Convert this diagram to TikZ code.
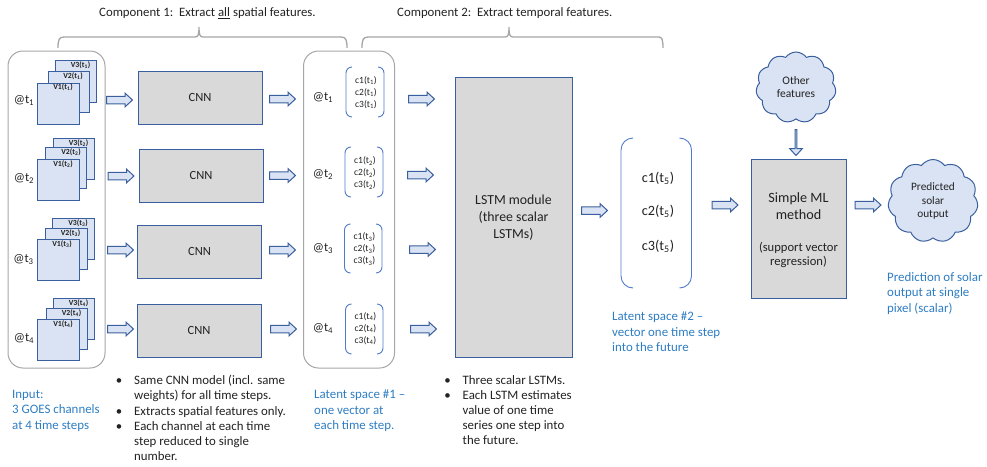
\documentclass[tikz,border=0pt]{standalone}
\usepackage{fontspec}
\setmainfont{Carlito}
\usetikzlibrary{shapes.arrows,shapes.symbols}
\definecolor{bluefill}{HTML}{DAE3F3}
\definecolor{blueline}{HTML}{3A5F9E}
\definecolor{brk}{HTML}{4F7BC8}
\definecolor{greyfill}{HTML}{D9D9D9}
\definecolor{greyline}{HTML}{A6A6A6}
\definecolor{bluetext}{HTML}{2E7DC2}
\definecolor{ink}{HTML}{222222}
\newcommand{\fs}[2]{\fontsize{#1}{#2}\selectfont}
\newcommand{\brkt}[5]{\draw[bracketline,rounded corners=#5] (#1+#5,#2)--(#1,#2)--(#1,#4)--(#1+#5,#4);
  \draw[bracketline,rounded corners=#5] (#3-#5,#2)--(#3,#2)--(#3,#4)--(#3-#5,#4);}
\tikzset{
  x=1pt,y=-1pt,
  bracketline/.style={draw=brk,line width=.9pt},
  sheet/.style={draw=blueline,fill=bluefill,line width=1pt},
  proc/.style={draw=blueline,fill=greyfill,line width=1pt,text=ink,inner sep=0pt,align=center},
  holder/.style={draw=greyline,line width=1pt,rounded corners=15pt},
  compbrace/.style={draw=greyline,line width=1.3pt},
  blk/.style={single arrow,draw=blueline,fill=bluefill,line width=1pt,inner sep=0pt,
    text height=6.5pt,text depth=0pt,text width=0pt,
    minimum height=26pt,minimum width=12.5pt,single arrow head extend=3pt,
    single arrow tip angle=85,anchor=tail},
  cloudy/.style={cloud,cloud puffs=11,cloud puff arc=110,aspect=1.1,draw=blueline,fill=bluefill,line width=1pt,
    inner sep=0pt,align=center,text=ink},
  vlab/.style={font=\fs{7.8}{8}\bfseries,text=ink,inner sep=0pt},
  clab/.style={font=\fs{9.5}{10},text=ink,inner sep=0pt},
  clabbig/.style={font=\fs{14.2}{15},text=ink,inner sep=0pt},
  atlab/.style={font=\fs{12.5}{14},text=ink,inner sep=0pt},
  body/.style={font=\fs{12.85}{15.2},text=ink,inner sep=0pt,anchor=north west,align=left},
  note/.style={font=\fs{12.9}{15.5},text=bluetext,inner sep=0pt,anchor=north west,align=left},
  head/.style={font=\fs{12.8}{14},text=ink,inner sep=0pt,anchor=west},
  cnnbox/.style={proc,minimum width=124pt,minimum height=53pt,font=\fs{12.5}{14}},
}
\newcommand{\bu}{\llap{•\hspace{12pt}}}
\begin{document}
\begin{tikzpicture}
\useasboundingbox (0,0) rectangle (987,466);
% headings
\node[head] (h1) at (99,13) {Component 1:\ \ Extract \underline{all} spatial features.};
\node[head] (h2) at (397,13) {Component 2:\ \ Extract temporal features.};
% component braces
\draw[compbrace] (58,48) .. controls (58,40) and (59,37) .. (64,37) -- (195,37) .. controls (198,37) and (199,35) .. (199,27)
  .. controls (199,35) and (200,37) .. (203,37) -- (341,37) .. controls (346,37) and (347,40) .. (347,48);
\draw[compbrace] (362,48) .. controls (362,40) and (363,37) .. (368,37) -- (505,37) .. controls (508,37) and (509,35) .. (509,27)
  .. controls (509,35) and (510,37) .. (513,37) -- (659,37) .. controls (662,37) and (663,40) .. (663,48);
% holders
\draw[holder] (8,51) rectangle (105,368);
\draw[holder] (303.5,51) rectangle (394.5,368);
% input stacks
\draw[sheet] (55,60.5) rectangle (96.5,102);
\draw[sheet] (48,71) rectangle (89,112);
\draw[sheet] (37,83) rectangle (79,124);
\node[vlab] (v31) at (80.5,65.5) {V3(t\textsubscript{1})};
\node[vlab] (v21) at (73,76.5) {V2(t\textsubscript{1})};
\node[vlab] (v11) at (63,87.5) {V1(t\textsubscript{1})};
\draw[sheet] (53,138.5) rectangle (94.5,179);
\draw[sheet] (45.5,147) rectangle (86.5,188);
\draw[sheet] (37.5,159) rectangle (79,200);
\node[vlab] (v32) at (78.5,143.5) {V3(t\textsubscript{2})};
\node[vlab] (v22) at (71,152.5) {V2(t\textsubscript{2})};
\node[vlab] (v12) at (63,164.5) {V1(t\textsubscript{2})};
\draw[sheet] (52,218) rectangle (94,259);
\draw[sheet] (45,228) rectangle (87,269);
\draw[sheet] (37,239) rectangle (79,280);
\node[vlab] (v33) at (78,223.5) {V3(t\textsubscript{3})};
\node[vlab] (v23) at (70.5,233.5) {V2(t\textsubscript{3})};
\node[vlab] (v13) at (62,244.5) {V1(t\textsubscript{3})};
\draw[sheet] (53,298) rectangle (94.5,339);
\draw[sheet] (46,308) rectangle (87.5,349);
\draw[sheet] (37.5,319) rectangle (79,360);
\node[vlab] (v34) at (78.5,303.5) {V3(t\textsubscript{4})};
\node[vlab] (v24) at (71.5,313.5) {V2(t\textsubscript{4})};
\node[vlab] (v14) at (63,324.5) {V1(t\textsubscript{4})};
% @ labels left
\node[atlab] (a1) at (24,100.5) {@t\textsubscript{1}};
\node[atlab] (a2) at (24,178.5) {@t\textsubscript{2}};
\node[atlab] (a3) at (23.5,259.5) {@t\textsubscript{3}};
\node[atlab] (a4) at (24,338.5) {@t\textsubscript{4}};
% CNN boxes
\node[cnnbox] (cnn1) at (200,97.5) {CNN};
\node[cnnbox] (cnn2) at (201,175.5) {CNN};
\node[cnnbox] (cnn3) at (199.5,251.5) {CNN};
\node[cnnbox] (cnn4) at (199,330.5) {CNN};
% arrows input -> CNN
\node[blk] (ai1) at (106,100) {};
\node[blk] (ai2) at (107.5,176) {};
\node[blk] (ai3) at (107,250) {};
\node[blk] (ai4) at (107,329) {};
% arrows CNN -> latent
\node[blk] (ac1) at (269,99) {};
\node[blk] (ac2) at (269,175.5) {};
\node[blk] (ac3) at (269,250) {};
\node[blk] (ac4) at (270,329) {};
% latent 1
\node[atlab] (b1) at (323,97.5) {@t\textsubscript{1}};
\node[atlab] (b2) at (323,174.5) {@t\textsubscript{2}};
\node[atlab] (b3) at (323,248.5) {@t\textsubscript{3}};
\node[atlab] (b4) at (323,328.5) {@t\textsubscript{4}};
\brkt{346}{67}{384}{117}{6}
\brkt{345}{147}{383}{197}{6}
\brkt{344.5}{224}{382}{273}{6}
\brkt{345.5}{304}{383}{354}{6}
\node[clab] (c11) at (366,81) {c1(t\textsubscript{1})};
\node[clab] (c21) at (366,92.5) {c2(t\textsubscript{1})};
\node[clab] (c31) at (366,105) {c3(t\textsubscript{1})};
\node[clab] (c12) at (365,161) {c1(t\textsubscript{2})};
\node[clab] (c22) at (365,173) {c2(t\textsubscript{2})};
\node[clab] (c32) at (365,185) {c3(t\textsubscript{2})};
\node[clab] (c13) at (364.5,237) {c1(t\textsubscript{3})};
\node[clab] (c23) at (364.5,249) {c2(t\textsubscript{3})};
\node[clab] (c33) at (364.5,261) {c3(t\textsubscript{3})};
\node[clab] (c14) at (365.5,317) {c1(t\textsubscript{4})};
\node[clab] (c24) at (365.5,329) {c2(t\textsubscript{4})};
\node[clab] (c34) at (365.5,341) {c3(t\textsubscript{4})};
% arrows latent -> LSTM
\node[blk] (al1) at (408,99) {};
\node[blk] (al2) at (407,175) {};
\node[blk] (al3) at (409,249.5) {};
\node[blk] (al4) at (410,329) {};
% LSTM
\node[proc,minimum width=117pt,minimum height=280.5pt,font=\fs{13.8}{17}] (lstm) at (513.5,217.7) {LSTM module\\(three scalar\\LSTMs)};
\node[blk] (a5) at (581,210.5) {};
% latent 2
\brkt{621}{138}{691.5}{288}{12}
\node[clabbig] (c15) at (658,178) {c1(t\textsubscript{5})};
\node[clabbig] (c25) at (658,211) {c2(t\textsubscript{5})};
\node[clabbig] (c35) at (658,246) {c3(t\textsubscript{5})};
\node[blk] (a6) at (711.5,205) {};
% ML
\node[proc,minimum width=95pt,minimum height=139pt] (ml) at (798.5,228.5) {};
\node[font=\fs{14.2}{17.5},text=ink,inner sep=0pt,align=center] (ml1) at (798.5,206) {Simple ML\\method};
\node[font=\fs{12.6}{14},text=ink,inner sep=0pt,align=center] (ml2) at (798.5,254.5) {(support vector\\regression)};
\node[blk] (a7) at (854.5,205) {};
% clouds
\node[cloudy,minimum width=80pt,minimum height=71pt,font=\fs{11.5}{13}] (oth) at (796,87.5) {\raisebox{1.5pt}{Other}\\\raisebox{1.5pt}{features}};
\node[blk,shape border rotate=270] (a8) at (796,129) {};
\node[cloudy,minimum width=90pt,minimum height=83pt,font=\fs{11.3}{13.5}] (pred) at (933,201) {Predicted\\solar\\output};
% notes
\node[note] (n1) at (12,390) {Input:\\3 GOES channels\\at 4 time steps};
\node[note] (n2) at (314,390) {Latent space \#1 –\\one vector at\\each time step.};
\node[note] (n3) at (612,312) {Latent space \#2 –\\vector one time step\\into the future};
\node[note] (n4) at (887,272) {Prediction of solar\\output at single\\pixel (scalar)};
% bullets
\node[body] (t1) at (134,375) {\bu Same CNN model (incl. same\\weights) for all time steps.\\\bu Extracts spatial features only.\\\bu Each channel at each time\\step reduced to single\\number.};
\node[body] (t2) at (462.5,375) {\bu Three scalar LSTMs.\\\bu Each LSTM estimates\\value of one time\\series one step into\\the future.};
\end{tikzpicture}
\end{document}
